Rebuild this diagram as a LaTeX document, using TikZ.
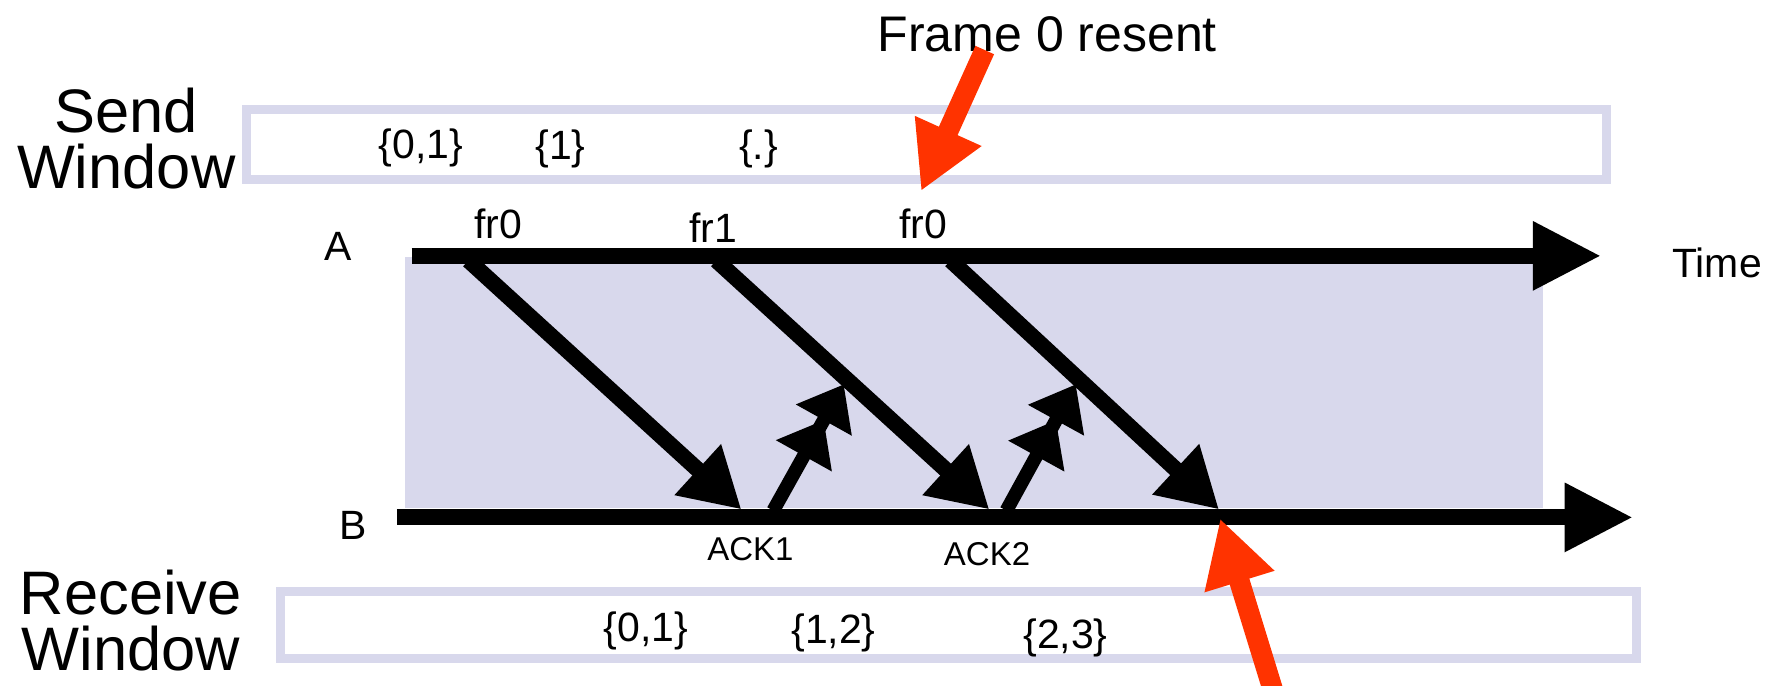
\documentclass[tikz,border=0pt]{standalone}
\usepackage{fontspec}
\setmainfont{Liberation Sans}
\usetikzlibrary{arrows.meta}
\definecolor{lav}{HTML}{D8D8EC}
\definecolor{redarr}{HTML}{FF3300}
\tikzset{
  winbox/.style={draw=lav, line width=8pt},
  axis/.style={line width=14pt, -{Triangle[length=60pt,width=57pt]}},
  frame/.style={line width=14pt, -{Triangle[length=52pt,width=57pt]}},
  ack/.style={line width=12pt, -{Triangle[length=36pt,width=54pt] Triangle[length=36pt,width=54pt]}},
  redar/.style={draw=redarr, line width=18pt, -{Triangle[length=58pt,width=60pt]}},
  big/.style={font=\fontsize{54}{49}\selectfont, align=center, inner sep=0pt},
  mid/.style={font=\fontsize{44}{50}\selectfont, inner sep=0pt},
  lab/.style={font=\fontsize{36}{40}\selectfont, inner sep=0pt},
  small/.style={font=\fontsize{29}{32}\selectfont, inner sep=0pt},
}
\begin{document}
\begin{tikzpicture}[x=1pt,y=-1pt]
\useasboundingbox (0,0) rectangle (1568,603);
% shaded region
\fill[lav] (356,226) rectangle (1357,447);
% windows
\draw[winbox] (217,96) rectangle (1413,158);
\draw[winbox] (247,520) rectangle (1439,579);
% labels
\node[big] (send) at (111,122) {Send\\Window};
\node[big] (recv) at (115,546) {Receive\\Window};
\node[mid] (resent) at (921,30) {Frame 0 resent};
\node[lab] (s01) at (370,130) {\{0,1\}};
\node[lab] (s1) at (493,131) {\{1\}};
\node[lab] (sdot) at (667,131) {\{.\}};
\node[lab] (r01) at (568,555) {\{0,1\}};
\node[lab] (r12) at (733,557) {\{1,2\}};
\node[lab] (r23) at (937,561) {\{2,3\}};
\node[lab] (fa) at (438,197) {fr0};
\node[lab] (fb) at (627,200) {fr1};
\node[lab] (fc) at (812,197) {fr0};
\node[lab] (A) at (297,217) {A};
\node[lab] (B) at (311,462) {B};
\node[lab] (time) at (1510,231) {Time};
\node[small] (ack1) at (660,483) {ACK1};
\node[small] (ack2) at (868,487) {ACK2};
% coordinates
\coordinate (a0) at (362,225);
\coordinate (a1) at (1408,225);
\coordinate (b0) at (349,455);
\coordinate (b1) at (1436,455);
\coordinate (d1s) at (412,229);
\coordinate (d1e) at (652,448);
\coordinate (d2s) at (630,229);
\coordinate (d2e) at (870,448);
\coordinate (d3s) at (836,229);
\coordinate (d3e) at (1072,448);
\coordinate (k1s) at (680,449);
\coordinate (k1e) at (742,338);
\coordinate (k2s) at (885,449);
\coordinate (k2e) at (946,338);
\coordinate (r1s) at (866,44);
\coordinate (r1e) at (810,168);
\coordinate (r2s) at (1121,612);
\coordinate (r2e) at (1073,456);
% time lines
\draw[axis] (a0) -- (a1);
\draw[axis] (b0) -- (b1);
% frames
\draw[frame] (d1s) -- (d1e);
\draw[frame] (d2s) -- (d2e);
\draw[frame] (d3s) -- (d3e);
% acks
\draw[ack] (k1s) -- (k1e);
\draw[ack] (k2s) -- (k2e);
% red arrows
\draw[redar] (r1s) -- (r1e);
\draw[redar] (r2s) -- (r2e);
\end{tikzpicture}
\end{document}
